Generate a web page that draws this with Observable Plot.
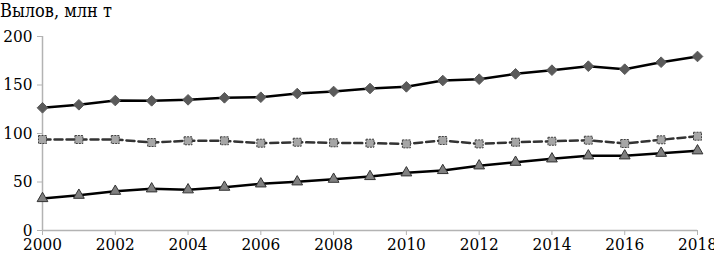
<!DOCTYPE html>
<html>
<head>
<meta charset="utf-8">
<script src="https://cdn.jsdelivr.net/npm/d3@7"></script>
<script src="https://cdn.jsdelivr.net/npm/@observablehq/plot@0.6"></script>
<style>
  html, body { margin: 0; padding: 0; background: #fff; }
  #wrap { position: relative; width: 714px; height: 257px; }
  #title { position: absolute; left: 0; top: 0px; font-family: "DejaVu Serif Condensed", "DejaVu Serif", serif; font-stretch: condensed; font-size: 18px; line-height: 21px; color: #000; }
  svg text { font-family: "DejaVu Serif Condensed", "DejaVu Serif", serif; font-stretch: condensed; }
</style>
</head>
<body>
<div id="wrap"><div id="title">Вылов, млн т</div></div>
<script>
const years = [2000,2001,2002,2003,2004,2005,2006,2007,2008,2009,2010,2011,2012,2013,2014,2015,2016,2017,2018];
const seriesTop = [126.5,129.6,134,133.7,134.7,136.8,137.4,141.2,143.3,146.4,148.1,154.6,156,161.5,165.3,169.4,166.3,173.5,179.4];
const seriesMid = [93.8,93.8,93.8,90.7,92.5,92.5,90,91,90.4,90,89.3,92.8,89.3,91,92,93.1,89.7,93.5,97.2];
const seriesLow = [33,36.4,40.5,43,42,44.7,48.1,50.2,52.9,55.7,59.5,61.9,66.7,70.4,73.9,77,77,79.7,82.2];
const yTicks = [0,50,100,150,200];
const xTicks = [2000,2002,2004,2006,2008,2010,2012,2014,2016,2018];

const top_ = years.map((x,i)=>({x, y: seriesTop[i]}));
const mid = years.map((x,i)=>({x, y: seriesMid[i]}));
const low = years.map((x,i)=>({x, y: seriesLow[i]}));

const axisColor = "#b3b3b3";
const chart = Plot.plot({
  width: 714,
  height: 257,
  marginLeft: 42,
  marginRight: 17,
  marginTop: 36,
  marginBottom: 27,
  style: { fontSize: "17px", color: "#000", background: "#fff" },
  x: { domain: [2000, 2018] },
  y: { domain: [0, 200] },
  marks: [
    Plot.ruleX([2000], { y1: 0, y2: 200, stroke: axisColor, strokeWidth: 1.5 }),
    Plot.ruleY([0], { stroke: axisColor, strokeWidth: 1.5 }),
    Plot.axisY({ ticks: yTicks, tickSize: 5, tickPadding: 5, stroke: axisColor, label: null, tickFormat: d => String(d), fill: "#000" }),
    Plot.axisX({ ticks: xTicks, tickSize: 5, tickPadding: 2, stroke: axisColor, label: null, tickFormat: d => String(d), fill: "#000" }),
    Plot.line(mid, { x: "x", y: "y", stroke: "#333", strokeWidth: 2.5, strokeDasharray: "8,4" }),
    Plot.line(low, { x: "x", y: "y", stroke: "#000", strokeWidth: 2.5 }),
    Plot.line(top_, { x: "x", y: "y", stroke: "#000", strokeWidth: 2.5 }),
    Plot.dot(top_, { x: "x", y: "y", symbol: "diamond2", r: 4.8, fill: "#5a5a5a", stroke: "#5a5a5a", strokeWidth: 1 }),
    Plot.dot(mid, { x: "x", y: "y", symbol: "square", r: 4.5, fill: "#a6a6a6", stroke: "#404040", strokeWidth: 1, strokeDasharray: "2,1" }),
    Plot.dot(low, { x: "x", y: "y", symbol: "triangle", r: 4, fill: "#808080", stroke: "#333", strokeWidth: 1 })
  ]
});
document.getElementById("wrap").prepend(chart);
</script>
</body>
</html>
